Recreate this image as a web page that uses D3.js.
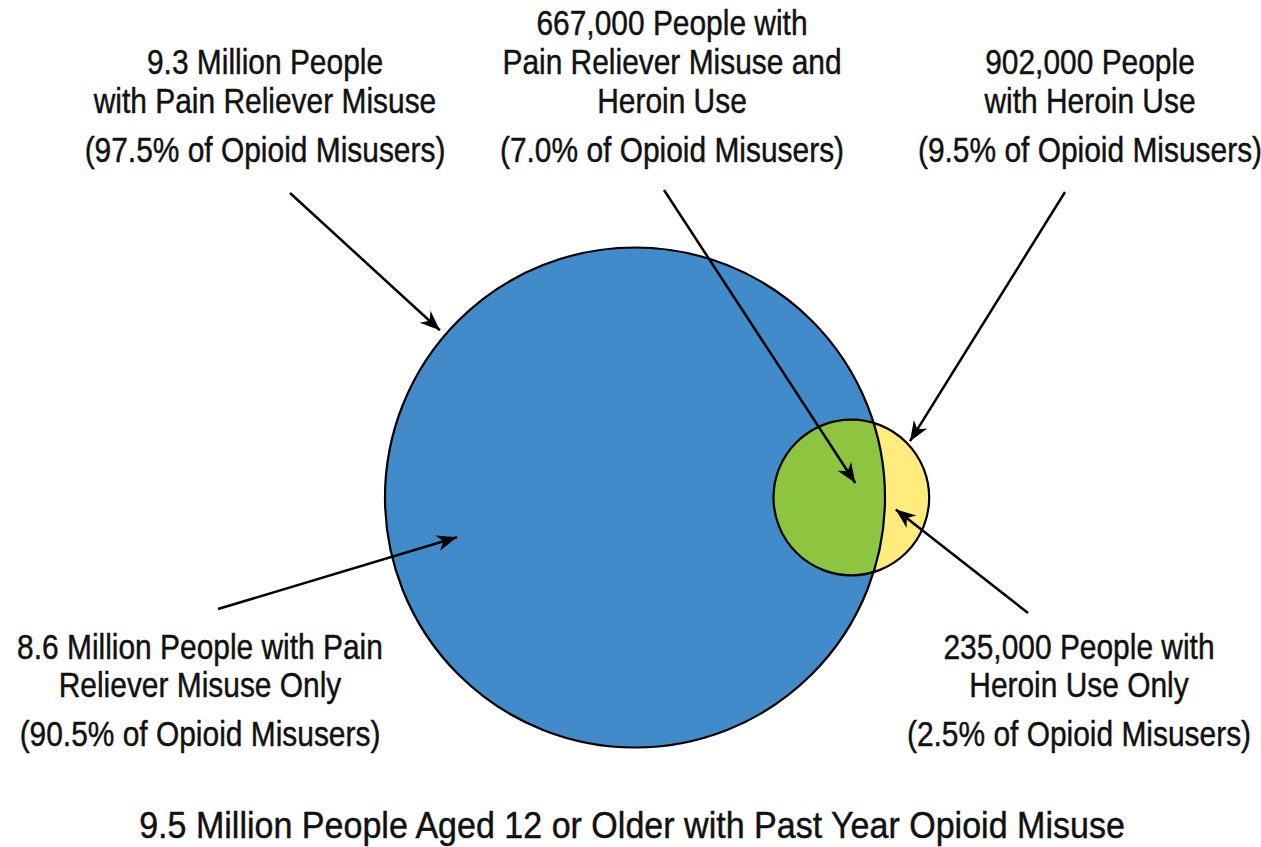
<!DOCTYPE html>
<html><head><meta charset="utf-8">
<script src="https://cdn.jsdelivr.net/npm/d3@7"></script>
<style>
html,body{margin:0;padding:0;background:#fff;}
svg text{font-family:"Liberation Sans",Arial,sans-serif;fill:#111;stroke:#111;stroke-width:0.45px;}
</style></head>
<body>
<svg id="chart" width="1261" height="847"></svg>
<script>
// ---- data (millions of people) ----
const setNames = ["Pain Reliever Misuse", "Heroin Use"];
const setTotals = [9.3, 0.902];           // circle sizes
const overlapValue = 0.667;               // both
const regionValues = [8.6, 0.667, 0.235]; // pain only, both, heroin only
const totalMisusers = 9.5;
const labelLines = [
  ["9.3 Million People", "with Pain Reliever Misuse", "(97.5% of Opioid Misusers)"],
  ["667,000 People with", "Pain Reliever Misuse and", "Heroin Use", "(7.0% of Opioid Misusers)"],
  ["902,000 People", "with Heroin Use", "(9.5% of Opioid Misusers)"],
  ["8.6 Million People with Pain", "Reliever Misuse Only", "(90.5% of Opioid Misusers)"],
  ["235,000 People with", "Heroin Use Only", "(2.5% of Opioid Misusers)"]
];
const titleText = "9.5 Million People Aged 12 or Older with Past Year Opioid Misuse";

// ---- layout ----
const svg = d3.select("#chart");
const rScale = d3.scaleSqrt().domain([0, setTotals[0]]).range([0, 250]);
const areaPerUnit = Math.PI * 250 * 250 / setTotals[0];
const r1 = rScale(setTotals[0]), r2 = rScale(setTotals[1]);
const c1 = {x: 635, y: 497.5};

function lensArea(d, a, b) {
  if (d >= a + b) return 0;
  if (d <= Math.abs(a - b)) return Math.PI * Math.min(a, b) ** 2;
  const A = a*a*Math.acos((d*d + a*a - b*b)/(2*d*a));
  const B = b*b*Math.acos((d*d + b*b - a*a)/(2*d*b));
  const C = 0.5*Math.sqrt((-d+a+b)*(d+a-b)*(d-a+b)*(d+a+b));
  return A + B - C;
}
const target = overlapValue * areaPerUnit;
let lo = Math.abs(r1 - r2), hi = r1 + r2;
for (let i = 0; i < 60; i++) {
  const mid = (lo + hi) / 2;
  if (lensArea(mid, r1, r2) > target) lo = mid; else hi = mid;
}
const dist = (lo + hi) / 2;
const c2 = {x: c1.x + dist, y: c1.y};

const circles = [
  {name: setNames[0], cx: c1.x, cy: c1.y, r: r1},
  {name: setNames[1], cx: c2.x, cy: c2.y, r: r2}
];

const defs = svg.append("defs");
defs.append("clipPath").attr("id", "clipBig")
  .append("circle").attr("cx", circles[0].cx).attr("cy", circles[0].cy).attr("r", circles[0].r);
defs.append("marker").attr("id", "arrow")
  .attr("viewBox", "-22 -10 24 20").attr("refX", 0).attr("refY", 0)
  .attr("markerWidth", 24).attr("markerHeight", 20).attr("markerUnits", "userSpaceOnUse")
  .attr("orient", "auto")
  .append("path").attr("d", "M0,0 L-20,-8 L-14,0 L-20,8 Z").attr("fill", "#000");

const g = svg.append("g");
g.append("circle").attr("cx", circles[0].cx).attr("cy", circles[0].cy).attr("r", circles[0].r)
  .attr("fill", "#428BCA");
g.append("circle").attr("cx", circles[1].cx).attr("cy", circles[1].cy).attr("r", circles[1].r)
  .attr("fill", "#FFEC7C");
g.append("circle").attr("cx", circles[1].cx).attr("cy", circles[1].cy).attr("r", circles[1].r)
  .attr("fill", "#8DC540").attr("clip-path", "url(#clipBig)");
g.selectAll("circle.outline").data(circles).join("circle").attr("class", "outline")
  .attr("cx", d => d.cx).attr("cy", d => d.cy).attr("r", d => d.r)
  .attr("fill", "none").attr("stroke", "#000").attr("stroke-width", 2.2);

// ---- labels (horizontally condensed to mimic a condensed face) ----
const condense = 0.855;
const labelPos = [
  {x: 265, y: [74, 113, 162]},
  {x: 672, y: [35, 74, 113, 162]},
  {x: 1090, y: [74, 113, 162]},
  {x: 200, y: [659, 697, 746]},
  {x: 1079, y: [659, 697, 746]}
];
labelLines.forEach((lines, i) => {
  const t = svg.append("text").attr("text-anchor", "middle").attr("font-size", 35)
    .attr("transform", `translate(${labelPos[i].x},0) scale(${condense},1)`);
  lines.forEach((ln, j) => {
    t.append("tspan").attr("x", 0).attr("y", labelPos[i].y[j]).text(ln);
  });
});
svg.append("text").attr("text-anchor", "middle").attr("font-size", 37)
  .attr("transform", `translate(632,0) scale(0.92,1)`)
  .append("tspan").attr("x", 0).attr("y", 838).text(titleText);

// ---- arrows (tips placed relative to circles) ----
function polar(c, rad, deg) {
  const a = deg * Math.PI / 180;
  return [c.cx + rad * Math.cos(a), c.cy + rad * Math.sin(a)];
}
const arrows = [
  {from: [290, 193], to: polar(circles[0], circles[0].r + 7, -139.4)},
  {from: [664, 190], to: [circles[1].cx + 4, circles[1].cy - 14.5]},
  {from: [1065, 192], to: polar(circles[1], circles[1].r + 3.5, -43.8)},
  {from: [218, 609], to: polar(circles[0], circles[0].r * 0.73, 167.4)},
  {from: [1028, 613], to: polar(circles[1], 46, 15)}
];
svg.selectAll("line.arrow").data(arrows).join("line").attr("class", "arrow")
  .attr("x1", d => d.from[0]).attr("y1", d => d.from[1])
  .attr("x2", d => d.to[0]).attr("y2", d => d.to[1])
  .attr("stroke", "#000").attr("stroke-width", 2.5).attr("marker-end", "url(#arrow)");
</script>
</body></html>
